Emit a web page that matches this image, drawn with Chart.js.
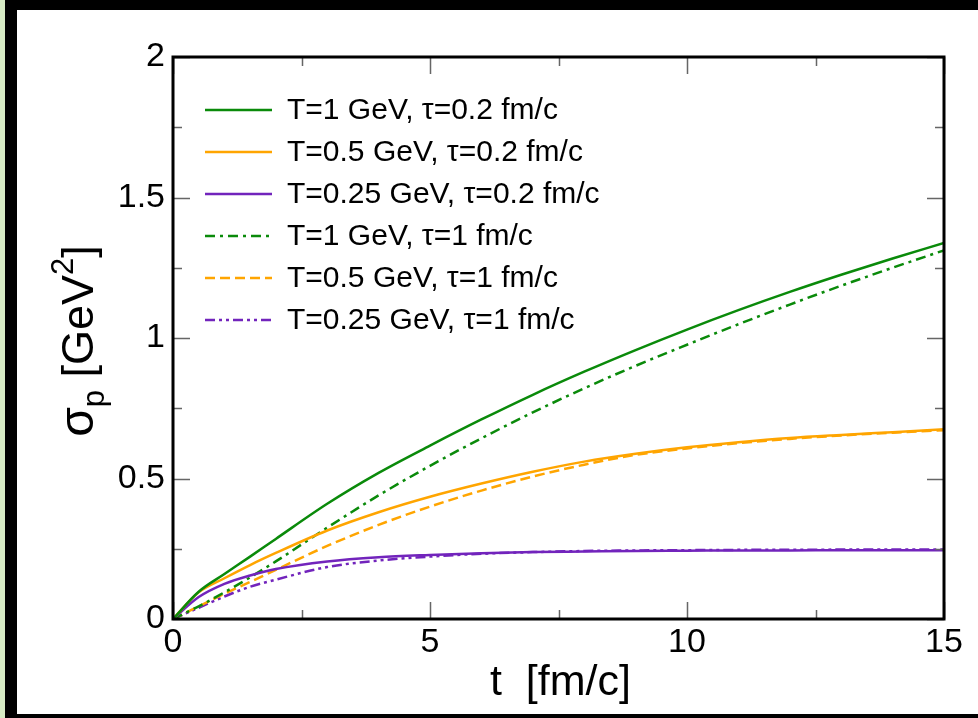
<!DOCTYPE html>
<html>
<head>
<meta charset="utf-8">
<script src="https://cdn.jsdelivr.net/npm/chart.js@4.4.1/dist/chart.umd.min.js"></script>
<style>
  html, body { margin: 0; padding: 0; width: 978px; height: 718px; overflow: hidden; background: #fff; position: relative; }
  .bar { position: absolute; background: #000; }
  #strip { position: absolute; left: 0; top: 0; width: 5px; height: 718px; background: #d6ebc4; }
  #panel { position: absolute; left: 17px; top: 10px; width: 961px; height: 704px; background: #fff; }
  canvas { display: block; }
</style>
</head>
<body>
<div class="bar" style="left:0;top:0;width:978px;height:10px"></div>
<div class="bar" style="left:5px;top:0;width:12px;height:718px"></div>
<div class="bar" style="left:0;top:714px;width:978px;height:4px"></div>
<div id="strip"></div>
<div id="panel"><canvas id="chart" width="961" height="704"></canvas></div>
<script>
// time grid, fm/c
const times = [0, 0.5, 1, 1.5, 2, 3, 4, 5, 6, 7, 8, 9, 10, 11, 12, 13, 14, 15];

// sigma_p [GeV^2]
const hiT_short  = [0, 0.097, 0.16, 0.222, 0.285, 0.41, 0.52, 0.617, 0.71, 0.798, 0.88, 0.957, 1.03, 1.099, 1.164, 1.225, 1.283, 1.338];
const midT_short = [0, 0.095, 0.145, 0.192, 0.235, 0.315, 0.38, 0.435, 0.482, 0.524, 0.56, 0.588, 0.611, 0.629, 0.644, 0.655, 0.665, 0.675];
const lowT_short = [0, 0.078, 0.125, 0.155, 0.178, 0.205, 0.22, 0.228, 0.234, 0.238, 0.24, 0.242, 0.243, 0.244, 0.244, 0.245, 0.245, 0.245];
const hiT_long   = [0, 0.045, 0.095, 0.148, 0.205, 0.325, 0.44, 0.545, 0.643, 0.735, 0.821, 0.901, 0.976, 1.049, 1.119, 1.186, 1.25, 1.312];
const midT_long  = [0, 0.045, 0.09, 0.132, 0.175, 0.26, 0.335, 0.40, 0.457, 0.507, 0.549, 0.584, 0.607, 0.626, 0.641, 0.653, 0.663, 0.672];
const lowT_long  = [0, 0.04, 0.08, 0.115, 0.14, 0.185, 0.208, 0.222, 0.232, 0.238, 0.242, 0.244, 0.245, 0.246, 0.246, 0.247, 0.247, 0.247];

const labels = [
  'T=1 GeV, \u03c4=0.2 fm/c',
  'T=0.5 GeV, \u03c4=0.2 fm/c',
  'T=0.25 GeV, \u03c4=0.2 fm/c',
  'T=1 GeV, \u03c4=1 fm/c',
  'T=0.5 GeV, \u03c4=1 fm/c',
  'T=0.25 GeV, \u03c4=1 fm/c'
];

const xMajor = [0, 5, 10, 15];
const xMinor = [2.5, 7.5, 12.5];
const yMajor = [0, 0.5, 1, 1.5, 2];
const yMinor = [0.25, 0.75, 1.25, 1.75];

const GREEN = '#0a8a0a', ORANGE = '#ffa500', PURPLE = '#7224bc';
const FONT = '"Liberation Sans", Arial, Helvetica, sans-serif';

const toPoints = ys => ys.map((y, i) => ({ x: times[i], y }));

const series = [
  { data: hiT_short,  color: GREEN,  dash: [] },
  { data: midT_short, color: ORANGE, dash: [] },
  { data: lowT_short, color: PURPLE, dash: [] },
  { data: hiT_long,   color: GREEN,  dash: [10, 5, 3, 5] },
  { data: midT_long,  color: ORANGE, dash: [10, 5] },
  { data: lowT_long,  color: PURPLE, dash: [10, 4, 3, 4, 3, 4] }
];

// inward tick marks on all four sides plus the box frame
const frameTicks = {
  id: 'frameTicks',
  afterDatasetsDraw(chart) {
    const { ctx, chartArea: a, scales: { x, y } } = chart;
    ctx.save();
    ctx.strokeStyle = '#666';
    ctx.lineWidth = 1.5;
    ctx.beginPath();
    const vTicks = (vals, len) => vals.forEach(v => {
      const px = Math.round(x.getPixelForValue(v)) + 0.5;
      ctx.moveTo(px, a.bottom); ctx.lineTo(px, a.bottom - len);
      ctx.moveTo(px, a.top); ctx.lineTo(px, a.top + len);
    });
    const hTicks = (vals, len) => vals.forEach(v => {
      const py = Math.round(y.getPixelForValue(v)) + 0.5;
      ctx.moveTo(a.left, py); ctx.lineTo(a.left + len, py);
      ctx.moveTo(a.right, py); ctx.lineTo(a.right - len, py);
    });
    vTicks(xMajor, 17); vTicks(xMinor, 9);
    hTicks(yMajor, 17); hTicks(yMinor, 9);
    ctx.stroke();
    ctx.strokeStyle = '#000';
    ctx.lineWidth = 3;
    ctx.strokeRect(a.left, a.top, a.right - a.left, a.bottom - a.top);
    ctx.restore();
  }
};

// legend in the upper-left corner, titles with sub/superscripts
const annotations = {
  id: 'annotations',
  afterDraw(chart) {
    const { ctx, chartArea: a } = chart;
    ctx.save();
    ctx.font = '30px ' + FONT;
    ctx.textBaseline = 'middle';
    ctx.fillStyle = '#000';
    chart.data.datasets.forEach((ds, i) => {
      const ly = a.top + 53 + i * 42;
      ctx.strokeStyle = ds.borderColor;
      ctx.lineWidth = 2.5;
      ctx.setLineDash(ds.borderDash || []);
      ctx.beginPath();
      ctx.moveTo(a.left + 32, ly);
      ctx.lineTo(a.left + 99, ly);
      ctx.stroke();
      ctx.fillText(ds.label, a.left + 114, ly + 1);
    });
    ctx.setLineDash([]);

    // x title
    ctx.textBaseline = 'alphabetic';
    ctx.textAlign = 'center';
    ctx.font = '43px ' + FONT;
    ctx.fillText('t  [fm/c]', (a.left + a.right) / 2 + 2, 685);

    // y title, rotated
    const parts = [
      { t: '\u03c3', size: 48, dy: 0 },
      { t: 'p', size: 31, dy: 11 },
      { t: ' [GeV', size: 45, dy: 0 },
      { t: '2', size: 31, dy: -20 },
      { t: ']', size: 45, dy: 0 }
    ];
    let total = 0;
    parts.forEach(p => { ctx.font = p.size + 'px ' + FONT; p.w = ctx.measureText(p.t).width; total += p.w; });
    ctx.translate(76, 331);
    ctx.rotate(-Math.PI / 2);
    ctx.textAlign = 'left';
    let cx = -total / 2;
    parts.forEach(p => {
      ctx.font = p.size + 'px ' + FONT;
      ctx.fillText(p.t, cx, p.dy);
      cx += p.w;
    });
    ctx.restore();
  }
};

new Chart(document.getElementById('chart'), {
  type: 'line',
  data: {
    datasets: series.map((s, i) => ({
      label: labels[i],
      data: toPoints(s.data),
      borderColor: s.color,
      borderDash: s.dash,
      borderWidth: 2.5,
      pointRadius: 0,
      fill: false,
      cubicInterpolationMode: 'monotone'
    }))
  },
  options: {
    responsive: false,
    animation: false,
    layout: { padding: { left: 0, top: 47, right: 34, bottom: 0 } },
    plugins: { legend: { display: false }, tooltip: { enabled: false } },
    scales: {
      x: {
        type: 'linear', min: 0, max: 15,
        grid: { display: false, drawTicks: false },
        border: { display: false },
        ticks: { stepSize: 5, padding: 3, color: '#000', maxRotation: 0, font: { family: FONT, size: 34 } },
        afterFit: s => { s.height = 95; }
      },
      y: {
        min: 0, max: 2,
        grid: { display: false, drawTicks: false },
        border: { display: false },
        ticks: {
          stepSize: 0.5, padding: 8, color: '#000', font: { family: FONT, size: 34 },
          callback: v => String(Math.round(v * 100) / 100)
        },
        afterFit: s => { s.width = 156; }
      }
    }
  },
  plugins: [frameTicks, annotations]
});
</script>
</body>
</html>
